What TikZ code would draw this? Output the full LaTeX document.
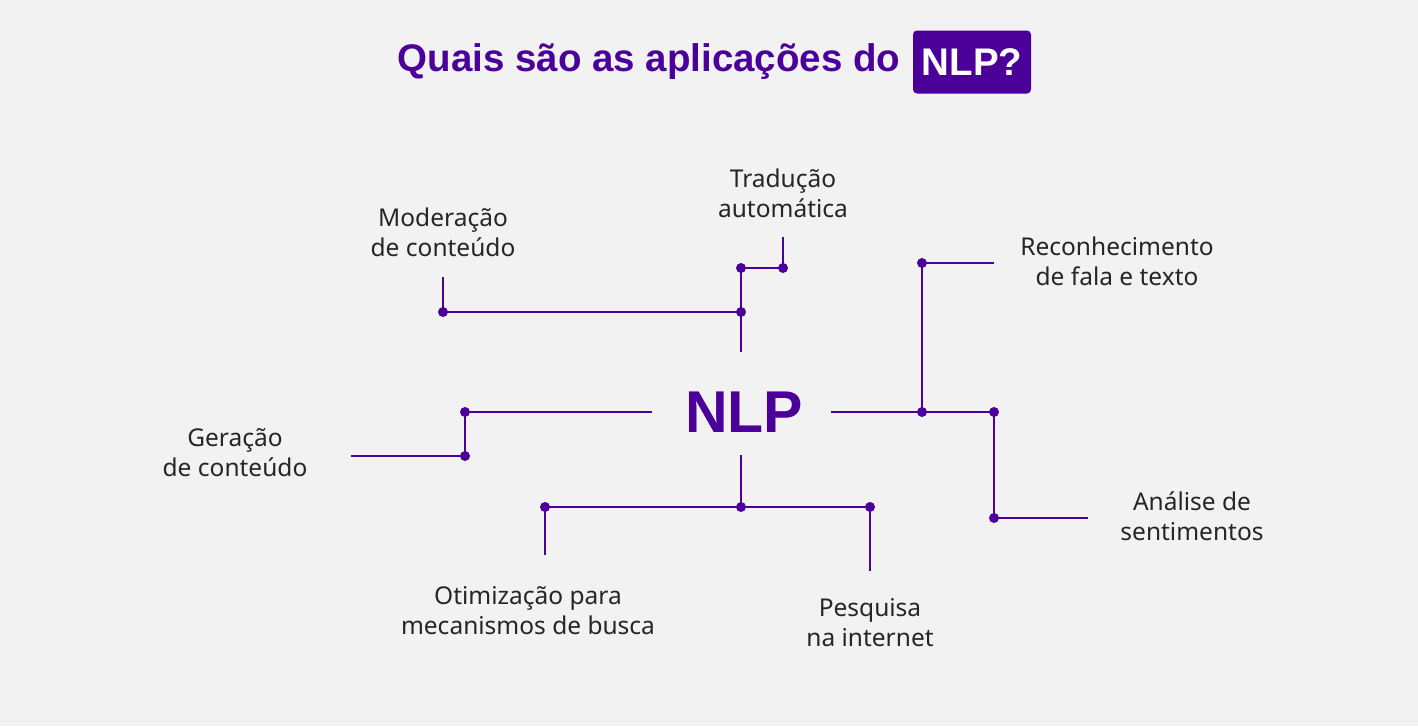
\documentclass[tikz,border=0pt]{standalone}
\usepackage{fontspec}
\setmainfont{Noto Sans}
\newfontfamily\negrito{Liberation Sans}
\usepackage{tikz}

\definecolor{roxo}{HTML}{4B0099}
\definecolor{fundo}{HTML}{F2F2F2}

\tikzset{
  rotulo/.style={align=center, font=\fontsize{24.5}{30}\selectfont, text=black!85},
  linha/.style={roxo, line width=1.6pt},
  ponto/.style={circle, fill=roxo, inner sep=0pt, minimum size=10pt}
}

\begin{document}
\begin{tikzpicture}[x=1pt, y=-1pt]
  % Fundo
  \fill[fundo] (0,0) rectangle (1418,726);
  \useasboundingbox (0,0) rectangle (1418,726);

  % Titulo
  \node[anchor=east, text=roxo, font=\negrito\fontsize{38.5}{44}\bfseries\selectfont] (titulo) at (904,62) {Quais são as aplicações do};
  \node[fill=roxo, rounded corners=4pt, text=white, minimum width=118pt, minimum height=63pt,
        font=\negrito\fontsize{38.5}{44}\bfseries\selectfont] (caixa) at (972,62) {NLP?};

  % Centro
  \node[text=roxo, font=\negrito\fontsize{59}{70}\bfseries\selectfont] (nlp) at (744,412) {NLP};

  % Rotulos
  \node[rotulo] (moderacao) at (443,232) {Moderação\\de conteúdo};
  \node[rotulo] (traducao) at (783,193) {Tradução\\automática};
  \node[rotulo] (reconhec) at (1117,261) {Reconhecimento\\de fala e texto};
  \node[rotulo] (geracao) at (235,453) {Geração\\de conteúdo};
  \node[rotulo] (analise) at (1192,516) {Análise de\\sentimentos};
  \node[rotulo] (otimiz) at (528,611) {Otimização para\\mecanismos de busca};
  \node[rotulo] (pesquisa) at (870,623) {Pesquisa\\na internet};

  % Pontos de juncao
  \coordinate (t0) at (741,352);
  \coordinate (t1) at (741,312);
  \coordinate (t2) at (741,268);
  \coordinate (t3) at (783,268);
  \coordinate (t4) at (783,237);
  \coordinate (m1) at (443,312);
  \coordinate (m2) at (443,277);

  \coordinate (e0) at (652,412);
  \coordinate (e1) at (465,412);
  \coordinate (e2) at (465,456);
  \coordinate (e3) at (351,456);

  \coordinate (d0) at (831,412);
  \coordinate (d1) at (922,412);
  \coordinate (d2) at (994,412);
  \coordinate (d3) at (922,263);
  \coordinate (d4) at (994,263);
  \coordinate (d5) at (994,518);
  \coordinate (d6) at (1088,518);

  \coordinate (b0) at (741,455);
  \coordinate (b1) at (741,507);
  \coordinate (b2) at (545,507);
  \coordinate (b3) at (870,507);
  \coordinate (b4) at (545,555);
  \coordinate (b5) at (870,571);

  % Ramos de cima
  \draw[linha] (t0) -- (t1) -- (t2) -- (t3) -- (t4);
  \draw[linha] (t1) -- (m1) -- (m2);

  % Ramo da esquerda
  \draw[linha] (e0) -- (e1) -- (e2) -- (e3);

  % Ramos da direita
  \draw[linha] (d0) -- (d1) -- (d2) -- (d5) -- (d6);
  \draw[linha] (d1) -- (d3) -- (d4);

  % Ramos de baixo
  \draw[linha] (b0) -- (b1);
  \draw[linha] (b4) -- (b2) -- (b3) -- (b5);

  % Pontos
  \foreach \p in {t1,t2,t3,m1,e1,e2,d1,d2,d3,d5,b1,b2,b3}
    \node[ponto] at (\p) {};
\end{tikzpicture}
\end{document}
